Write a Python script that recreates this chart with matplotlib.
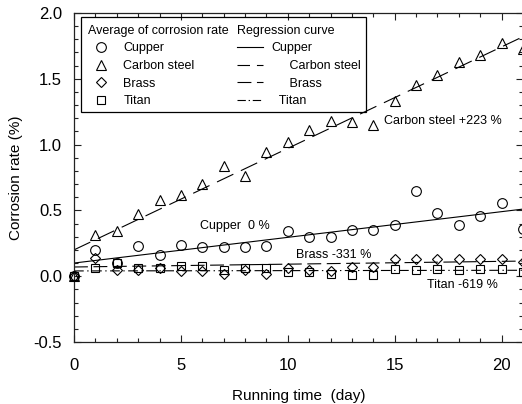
import numpy as np
import matplotlib
matplotlib.use("Agg")
import matplotlib.pyplot as plt
from matplotlib.lines import Line2D
from matplotlib.patches import Rectangle

# measured corrosion rate (%), one value per day
days = list(range(0, 22))
cupper = [0.00, 0.20, 0.10, 0.23, 0.16, 0.24, 0.22, 0.22, 0.22, 0.23, 0.34,
          0.30, 0.30, 0.35, 0.35, 0.39, 0.65, 0.48, 0.39, 0.46, 0.56, 0.36]
carbon = [0.00, 0.31, 0.34, 0.47, 0.58, 0.62, 0.70, 0.84, 0.76, 0.94, 1.02,
          1.11, 1.18, 1.17, 1.15, 1.33, 1.45, 1.53, 1.63, 1.68, 1.77, 1.73]
brass = [0.00, 0.14, 0.045, 0.045, 0.06, 0.04, 0.04, 0.02, 0.05, 0.02, 0.06,
         0.05, 0.04, 0.07, 0.07, 0.13, 0.13, 0.13, 0.13, 0.13, 0.13, 0.11]
titan = [0.00, 0.06, 0.10, 0.06, 0.06, 0.08, 0.08, 0.045, 0.06, 0.06, 0.03,
         0.035, 0.02, 0.01, 0.01, 0.055, 0.045, 0.055, 0.045, 0.055, 0.055, 0.03]

# regression curves, end points
reg_days = [0, 21]
reg_cupper = [0.10, 0.51]
reg_carbon = [0.20, 1.82]
reg_brass = [0.07, 0.115]
reg_titan = [0.04, 0.045]

notes = ["Carbon steel +223 %", "Cupper  0 %", "Brass -331 %", "Titan -619 %"]
note_x = [14.5, 5.9, 10.4, 16.5]
note_y = [1.18, 0.38, 0.16, -0.07]

plt.rcParams['font.family'] = ['Liberation Sans', 'DejaVu Sans']
plt.rcParams['axes.unicode_minus'] = False
plt.rcParams['lines.scale_dashes'] = False

fig = plt.figure(figsize=(5.22, 4.04), dpi=100)
# right edge of the frame falls just outside the picture, as in the original
ax = fig.add_axes([74 / 522, 62 / 404, 449 / 522, 329 / 404])

mk = dict(linestyle='none', markerfacecolor='none', markeredgecolor='black',
          markeredgewidth=0.8, clip_on=False, zorder=3)
p_cu, = ax.plot(days, cupper, marker='o', markersize=7, **mk)
p_cs, = ax.plot(days, carbon, marker='^', markersize=6.5, **mk)
p_br, = ax.plot(days, brass, marker='D', markersize=5.5, **mk)
p_ti, = ax.plot(days, titan, marker='s', markersize=5.5, **mk)

l_cu, = ax.plot(reg_days, reg_cupper, color='black', lw=0.8)
l_cs, = ax.plot(reg_days, reg_carbon, color='black', lw=0.8, dashes=(13, 6))
l_br, = ax.plot(reg_days, reg_brass, color='black', lw=0.8, dashes=(10, 4))
l_ti, = ax.plot(reg_days, reg_titan, color='black', lw=0.8, dashes=(7, 2.5, 1, 2.5))

for t, x, y in zip(notes, note_x, note_y):
    ax.text(x, y, t, fontsize=9, va='center', ha='left')

ax.set_xlim(0, 21)
ax.set_ylim(-0.5, 2.0)
ax.set_xticks([0, 5, 10, 15, 20])
ax.set_xticks(np.arange(0, 22, 1), minor=True)
ax.set_yticks([-0.5, 0.0, 0.5, 1.0, 1.5, 2.0])
ax.set_yticklabels(["-0.5", "0.0", "0.5", "1.0", "1.5", "2.0"])
ax.set_yticks(np.arange(-0.5, 2.01, 0.1), minor=True)
ax.tick_params(which='both', direction='in', top=True, right=True, labelsize=12,
               width=0.8, colors='#222222', labelcolor='black')
ax.tick_params(which='major', length=5)
ax.tick_params(axis='x', which='major', pad=11.5)
ax.tick_params(axis='y', which='major', pad=8.5)
ax.tick_params(which='minor', length=3)
for s in ax.spines.values():
    s.set_linewidth(0.9)
    s.set_color('#222222')

ax.set_xlabel("Running time  (day)", fontsize=11, labelpad=11.5)
ax.set_ylabel("Corrosion rate (%)", fontsize=11, labelpad=8)

lg_kw = dict(loc='upper left', frameon=False, fontsize=9, title_fontsize=9,
             alignment='left', handlelength=2.1, handletextpad=0.7,
             labelspacing=0.45, borderpad=0.6, borderaxespad=0)
leg1 = ax.legend([p_cu, p_cs, p_br, p_ti], ["Cupper", "Carbon steel", "Brass", "Titan"],
                 title="Average of corrosion rate", bbox_to_anchor=(0.015, 0.987),
                 **lg_kw)
ax.add_artist(leg1)
h2 = [Line2D([], [], color='black', lw=0.8),
      Line2D([], [], color='black', lw=0.8, dashes=(9, 5)),
      Line2D([], [], color='black', lw=0.8, dashes=(10, 4)),
      Line2D([], [], color='black', lw=0.8, dashes=(6, 2, 1, 2))]
leg2 = ax.legend(h2, ["Cupper", "     Carbon steel", "     Brass", "  Titan"],
                 title="Regression curve", bbox_to_anchor=(0.346, 0.987), **lg_kw)
ax.add_patch(Rectangle((0.015, 0.700), 0.636, 0.287, transform=ax.transAxes,
                       fill=False, edgecolor='black', lw=0.9, zorder=5))

plt.savefig("out.png", dpi=100)
